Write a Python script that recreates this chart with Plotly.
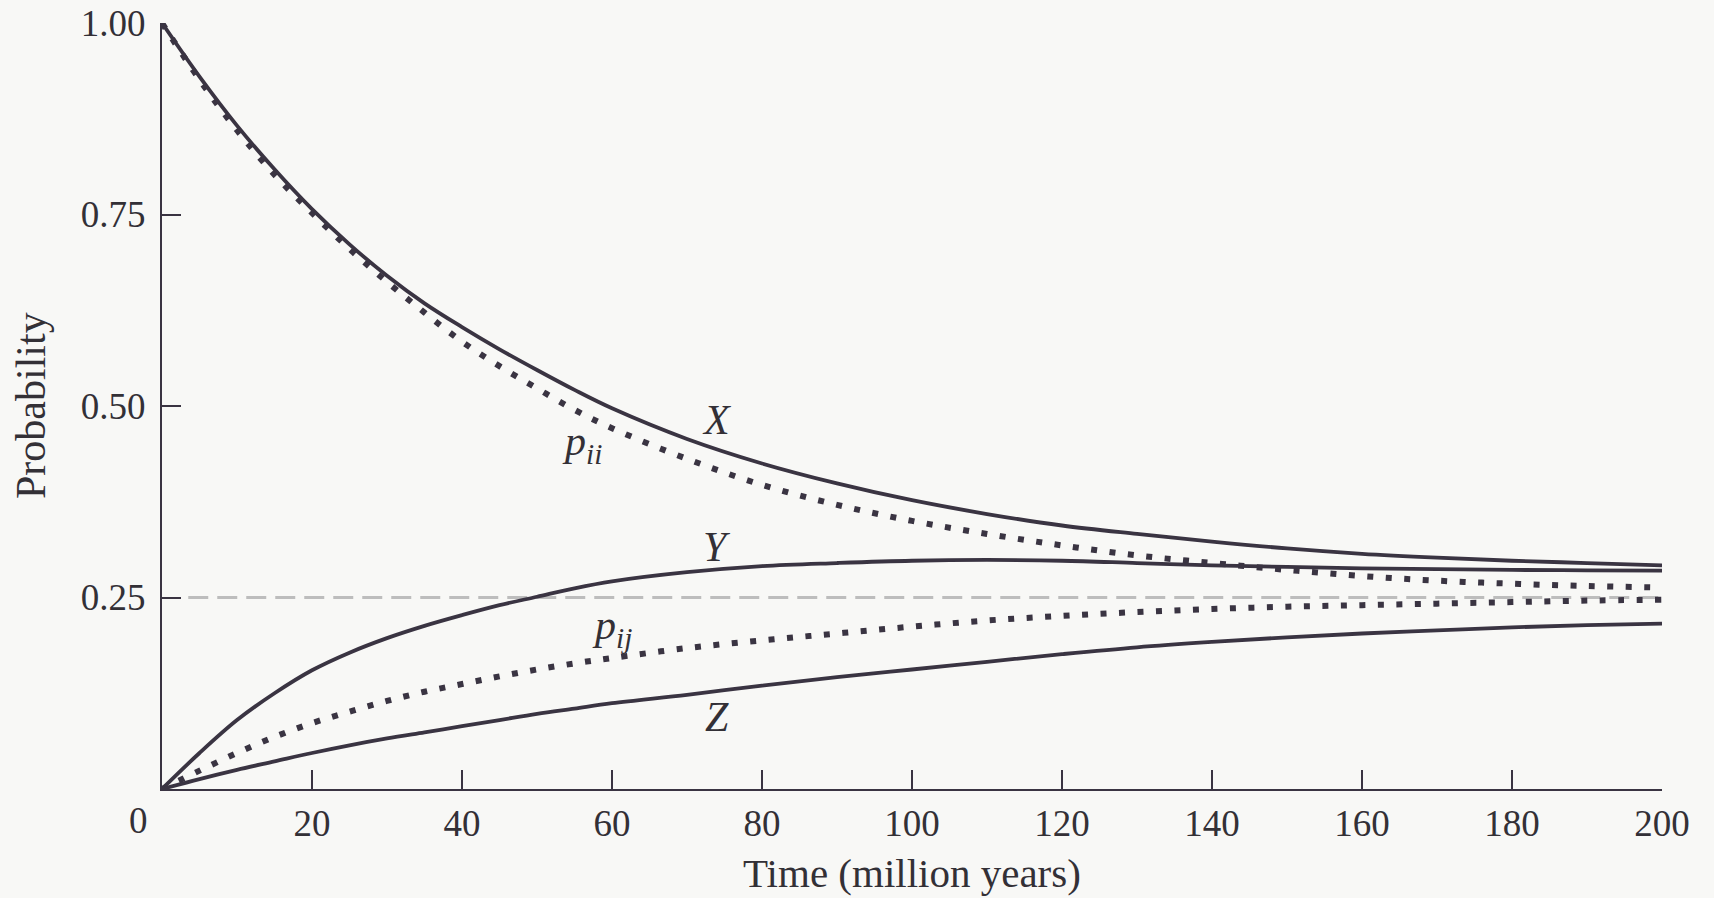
import plotly.graph_objects as go

# Time (million years)
time_my = [0, 5, 10, 15, 20, 25, 30, 35, 40, 45, 50, 55, 60,
           70, 80, 90, 100, 110, 120, 130, 140, 150, 160, 170, 180, 190, 200]

# Solid curves
x_curve = [1.0, 0.930, 0.866, 0.809, 0.757, 0.711, 0.670, 0.634, 0.603, 0.574, 0.547, 0.521, 0.497,
           0.457, 0.425, 0.399, 0.377, 0.359, 0.344, 0.333, 0.323, 0.314, 0.307, 0.302, 0.298, 0.295, 0.292]
y_curve = [0.0, 0.047, 0.090, 0.125, 0.155, 0.178, 0.197, 0.213, 0.227, 0.240, 0.251, 0.262, 0.271,
           0.283, 0.291, 0.295, 0.298, 0.299, 0.298, 0.295, 0.292, 0.290, 0.288, 0.287, 0.286, 0.2855, 0.285]
z_curve = [0.0, 0.013, 0.025, 0.036, 0.047, 0.057, 0.066, 0.074, 0.082, 0.090, 0.098, 0.105, 0.112,
           0.123, 0.135, 0.146, 0.156, 0.166, 0.176, 0.185, 0.192, 0.198, 0.203, 0.207, 0.211, 0.214, 0.216]

# Dotted curves
p_ii = [1.0, 0.926, 0.860, 0.802, 0.752, 0.705, 0.662, 0.622, 0.584, 0.552, 0.523, 0.495, 0.471,
        0.431, 0.397, 0.371, 0.350, 0.333, 0.318, 0.305, 0.295, 0.286, 0.278, 0.272, 0.268, 0.265, 0.263]
p_ij = [0.0, 0.024, 0.047, 0.068, 0.086, 0.101, 0.115, 0.127, 0.137, 0.147, 0.156, 0.164, 0.171,
        0.184, 0.194, 0.203, 0.212, 0.220, 0.226, 0.231, 0.235, 0.238, 0.240, 0.242, 0.244, 0.246, 0.247]

# Equilibrium line
eq_t = [3.5, 200]
eq_p = [0.25, 0.25]

x_ticks = [20, 40, 60, 80, 100, 120, 140, 160, 180, 200]
y_ticks = [0.25, 0.50, 0.75, 1.00]

INK = "#3a3442"
TXT = "#333036"
FONT = "Liberation Serif"

fig = go.Figure()

fig.add_trace(go.Scatter(x=eq_t, y=eq_p, mode="lines",
                         line=dict(color="#bdbdbd", width=3, dash="20px,9px"),
                         hoverinfo="skip"))
for ser in (p_ii, p_ij):
    fig.add_trace(go.Scatter(x=time_my, y=ser, mode="lines",
                             line=dict(color=INK, width=6, dash="6px,12.5px",
                                       shape="spline", smoothing=1.0),
                             hoverinfo="skip"))
for ser in (x_curve, y_curve, z_curve):
    fig.add_trace(go.Scatter(x=time_my, y=ser, mode="lines",
                             line=dict(color=INK, width=3.8, shape="spline", smoothing=1.0),
                             hoverinfo="skip"))

lab_font = dict(family=FONT, size=42, color=TXT)
annos = [
    dict(x=74, y=0.482, text="<i>X</i>"),
    dict(x=74, y=0.316, text="<i>Y</i>"),
    dict(x=74, y=0.094, text="<i>Z</i>"),
    dict(x=56, y=0.451, text="<i>p</i><sub><i>ii</i></sub>"),
    dict(x=60, y=0.210, text="<i>p</i><sub><i>ij</i></sub>"),
]
for a in annos:
    fig.add_annotation(x=a["x"], y=a["y"], text=a["text"], showarrow=False,
                       xref="x", yref="y", font=lab_font,
                       xanchor="center", yanchor="middle")

# origin "0" label
fig.add_annotation(x=0, y=0, xref="x", yref="y", text="0", showarrow=False,
                   xshift=-24, yshift=-31, font=dict(family=FONT, size=37, color=TXT),
                   xanchor="center", yanchor="middle")
# axis titles
fig.add_annotation(x=0.5, y=0, xref="paper", yref="paper", text="Time (million years)",
                   showarrow=False, yshift=-84, xanchor="center", yanchor="middle",
                   font=dict(family=FONT, size=41, color=TXT))
fig.add_annotation(x=0, y=0.5, xref="paper", yref="paper", text="Probability",
                   showarrow=False, xshift=-131, textangle=-90,
                   xanchor="center", yanchor="middle",
                   font=dict(family=FONT, size=42, color=TXT))

fig.update_layout(
    width=1714, height=898,
    margin=dict(l=162, r=52, t=23, b=109, autoexpand=False),
    paper_bgcolor="#f8f8f6", plot_bgcolor="rgba(0,0,0,0)",
    showlegend=False,
    font=dict(family=FONT, color=TXT),
    xaxis=dict(range=[0, 200], showgrid=False, zeroline=False, automargin=False,
               showline=True, linecolor=INK, linewidth=2.2,
               ticks="inside", ticklen=19, tickwidth=2, tickcolor=INK,
               tickvals=x_ticks, ticktext=[str(v) for v in x_ticks],
               tickfont=dict(family=FONT, size=37, color=TXT),
               ticklabelstandoff=0),
    yaxis=dict(range=[0, 1], showgrid=False, zeroline=False, automargin=False,
               showline=True, linecolor=INK, linewidth=2.2,
               ticks="inside", ticklen=19, tickwidth=2, tickcolor=INK,
               tickvals=y_ticks, ticktext=["%.2f" % v for v in y_ticks],
               tickfont=dict(family=FONT, size=37, color=TXT),
               ticklabelstandoff=7),
)

fig.write_html("out.html", config={"displayModeBar": False},
               post_script="document.body.style.margin='0';"
                           "document.body.style.overflow='hidden';"
                           "document.body.style.background='#f8f8f6';")
